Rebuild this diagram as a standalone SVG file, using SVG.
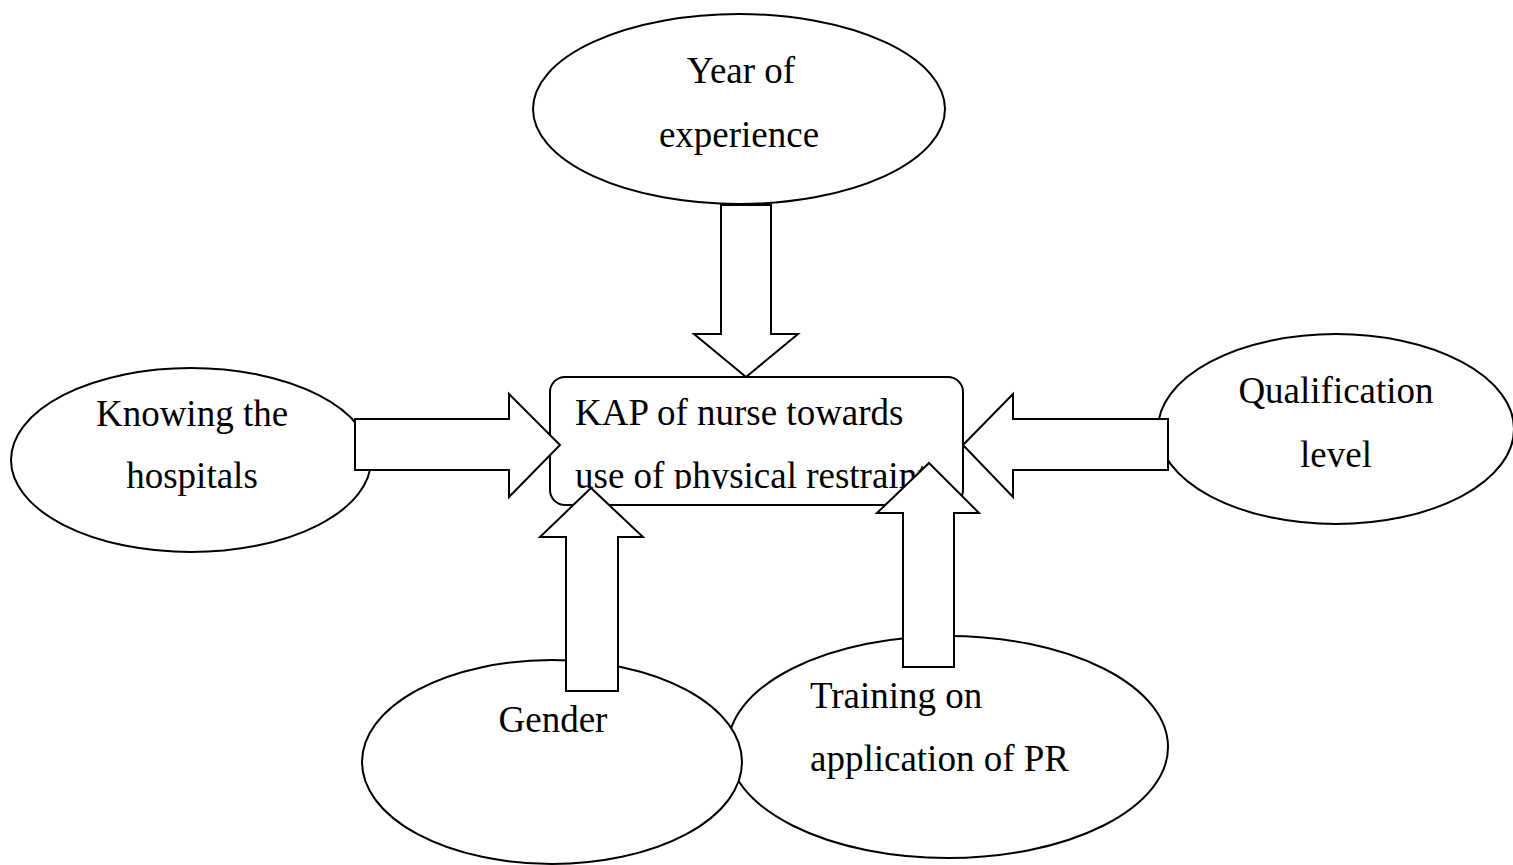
<svg xmlns="http://www.w3.org/2000/svg" width="1513" height="865" viewBox="0 0 1513 865">
  <style>
    .shape { fill: #ffffff; stroke: #000000; stroke-width: 2; }
    .arrow { fill: #ffffff; stroke: #000000; stroke-width: 2; stroke-linejoin: miter; }
    .label { font-family: "Liberation Serif", "Times New Roman", serif; font-size: 37px; fill: #000000; }
    .mid { text-anchor: middle; }
  </style>
  <defs>
    <clipPath id="boxclip">
      <rect x="551" y="378" width="411" height="111"/>
    </clipPath>
  </defs>
  <rect width="1513" height="865" fill="#ffffff"/>

  <g id="node-year">
    <ellipse class="shape" cx="739" cy="109" rx="206" ry="95"/>
    <text class="label mid" x="741" y="83">Year of</text>
    <text class="label mid" x="739" y="147">experience</text>
  </g>

  <g id="node-knowing">
    <ellipse class="shape" cx="191" cy="460" rx="180" ry="92"/>
    <text class="label mid" x="192" y="426">Knowing the</text>
    <text class="label mid" x="192" y="488">hospitals</text>
  </g>

  <g id="node-qualification">
    <ellipse class="shape" cx="1336" cy="429" rx="178" ry="95"/>
    <text class="label mid" x="1336" y="403">Qualification</text>
    <text class="label mid" x="1336" y="467">level</text>
  </g>

  <g id="node-training">
    <ellipse class="shape" cx="948" cy="747" rx="220" ry="111"/>
    <text class="label" x="810" y="708">Training on</text>
    <text class="label" x="810" y="771">application of PR</text>
  </g>

  <g id="node-gender">
    <ellipse class="shape" cx="552" cy="762" rx="190" ry="102"/>
    <text class="label mid" x="553" y="732">Gender</text>
  </g>

  <g id="node-kap">
    <rect class="shape" x="550" y="377" width="413" height="128" rx="15" ry="15"/>
    <g clip-path="url(#boxclip)">
      <text class="label" x="575" y="425">KAP of nurse towards</text>
      <text class="label" x="575" y="488">use of physical restraint</text>
    </g>
  </g>

  <g id="connectors">
    <polygon class="arrow" points="721,205 771,205 771,334 798,334 746,377 694,334 721,334"/>
    <polygon class="arrow" points="355,419 509,419 509,394 560,445 509,497 509,470 355,470"/>
    <polygon class="arrow" points="1168,419 1013,419 1013,394 963,445 1013,497 1013,470 1168,470"/>
    <polygon class="arrow" points="566,691 566,537 540,537 591,488 643,537 618,537 618,691"/>
    <polygon class="arrow" points="903,667 903,513 877,513 929,463 979,513 954,513 954,667"/>
  </g>
</svg>
